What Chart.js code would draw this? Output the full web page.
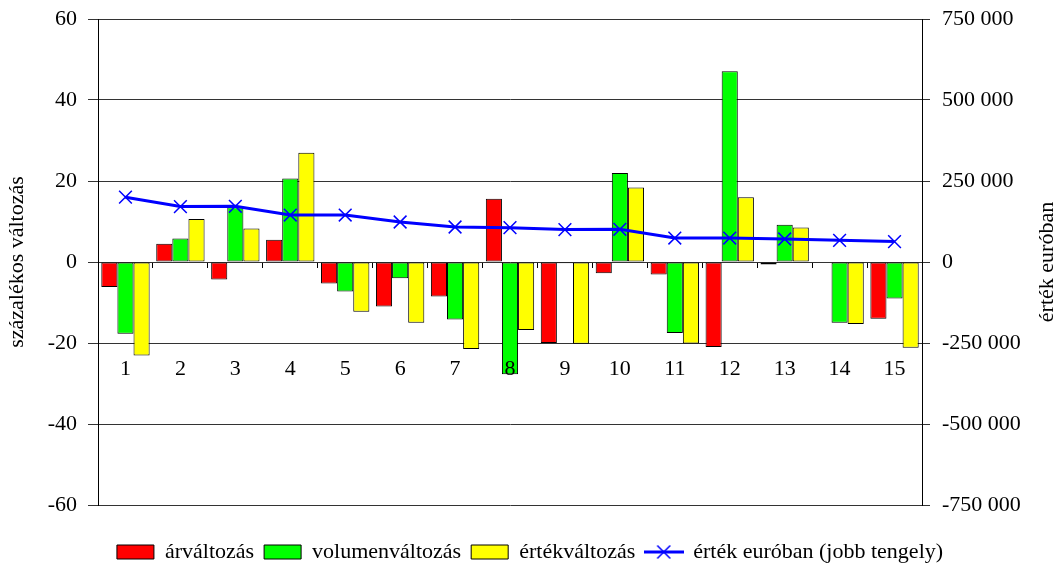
<!DOCTYPE html>
<html>
<head>
<meta charset="utf-8">
<script src="https://cdn.jsdelivr.net/npm/chart.js@4/dist/chart.umd.min.js"></script>
<style>
  html, body { margin: 0; padding: 0; background: #fff; }
  #wrap { width: 1060px; height: 564px; }
</style>
</head>
<body>
<div id="wrap"><canvas id="c" width="1060" height="564"></canvas></div>
<script>
const categories = ['1','2','3','4','5','6','7','8','9','10','11','12','13','14','15'];
const arvaltozas = [-6.2, 4.5, -4.3, 5.5, -5.3, -11.0, -8.5, 15.6, -20.0, -2.8, -3.1, -21.0, -0.6, 0, -14.0];
const volumenvaltozas = [-17.7, 5.8, 13.5, 20.6, -7.3, -4.0, -14.2, -27.7, -0.3, 22.0, -17.5, 47.1, 9.2, -15.0, -9.0];
const ertekvaltozas = [-23.1, 10.6, 8.3, 27.0, -12.3, -15.0, -21.5, -16.8, -20.2, 18.4, -20.1, 16.0, 8.5, -15.3, -21.2];
const ertekEuroban = [200000, 171000, 172000, 145000, 145000, 123500, 108000, 106000, 100000, 101000, 74000, 74000, 71000, 67000, 63000];
const seriesNames = ['árváltozás', 'volumenváltozás', 'értékváltozás', 'érték euróban (jobb tengely)'];
const axisTitles = ['százalékos változás', 'érték euróban'];
const leftTicks = { min: -60, max: 60, step: 20 };
const rightTicks = { min: -750000, max: 750000, step: 250000 };

const FONT = 'Liberation Serif';
const FS = 22;

function fmtSpace(v) {
  const s = String(Math.abs(Math.round(v))).replace(/\B(?=(\d{3})+(?!\d))/g, ' ');
  return (v < 0 ? '-' : '') + s;
}

// legend icon for the line series (line with X marker)
function lineIcon() {
  const cv = document.createElement('canvas');
  cv.width = 40; cv.height = 16;
  const g = cv.getContext('2d');
  g.strokeStyle = '#0000FF';
  g.lineWidth = 3;
  g.beginPath(); g.moveTo(0, 8); g.lineTo(40, 8); g.stroke();
  g.lineWidth = 1.5;
  g.beginPath(); g.moveTo(13.5, 1.5); g.lineTo(26.5, 14.5); g.moveTo(26.5, 1.5); g.lineTo(13.5, 14.5); g.stroke();
  return cv;
}
const icon = lineIcon();

// right axis title, rotated to read bottom-to-top like the reference
const rightTitlePlugin = {
  id: 'rightTitle',
  afterDraw(chart) {
    const ctx = chart.ctx;
    const area = chart.chartArea;
    ctx.save();
    ctx.font = FS + 'px "' + FONT + '"';
    ctx.fillStyle = '#000';
    ctx.textAlign = 'center';
    ctx.textBaseline = 'middle';
    ctx.translate(chart.width - 13, (area.top + area.bottom) / 2);
    ctx.rotate(-Math.PI / 2);
    ctx.fillText(axisTitles[1], 0, 0);
    ctx.restore();
  }
};

const barCommon = { borderColor: '#000000', borderWidth: 1, borderSkipped: false, xAxisID: 'x', yAxisID: 'y', categoryPercentage: 0.88, barPercentage: 1.0, order: 1 };

new Chart(document.getElementById('c'), {
  type: 'bar',
  data: {
    labels: categories,
    datasets: [
      Object.assign({ label: seriesNames[0], data: arvaltozas, backgroundColor: '#FF0000' }, barCommon),
      Object.assign({ label: seriesNames[1], data: volumenvaltozas, backgroundColor: '#00FF00' }, barCommon),
      Object.assign({ label: seriesNames[2], data: ertekvaltozas, backgroundColor: '#FFFF00' }, barCommon),
      {
        type: 'line', label: seriesNames[3], data: ertekEuroban, yAxisID: 'y1', xAxisID: 'x',
        borderColor: '#0000FF', backgroundColor: '#0000FF', borderWidth: 3, tension: 0,
        pointStyle: 'crossRot', pointRadius: 9, pointBorderWidth: 1.5, pointBorderColor: '#0000FF',
        pointHoverRadius: 9, order: 0
      }
    ]
  },
  plugins: [rightTitlePlugin],
  options: {
    responsive: false,
    devicePixelRatio: 1,
    animation: false,
    layout: { autoPadding: false, padding: { top: 19, left: 0, right: 0, bottom: 0 } },
    plugins: {
      tooltip: { enabled: false },
      legend: {
        position: 'bottom',
        maxHeight: 33,
        labels: {
          font: { family: FONT, size: FS },
          color: '#000',
          usePointStyle: true,
          pointStyleWidth: 37,
          boxWidth: 37,
          boxHeight: 14,
          padding: 10,
          sort: (a, b) => a.datasetIndex - b.datasetIndex,
          generateLabels: (chart) => {
            const items = Chart.defaults.plugins.legend.labels.generateLabels(chart);
            return items.map(it => {
              if (it.datasetIndex === 3) {
                it.pointStyle = icon;
              } else {
                it.pointStyle = 'rect';
                it.strokeStyle = '#000';
                it.lineWidth = 1;
              }
              return it;
            });
          }
        }
      }
    },
    scales: {
      x: {
        type: 'category',
        position: { y: 0 },
        afterFit: (s) => { s.height = 0; s.paddingLeft = 0; s.paddingRight = 0; },
        grid: { display: true, drawOnChartArea: false, drawTicks: true, tickLength: 6, offset: true, color: '#000', lineWidth: 1 },
        border: { display: false },
        ticks: { z: 1, font: { family: FONT, size: FS }, color: '#000', padding: 88, autoSkip: false, maxRotation: 0 }
      },
      xs: {
        type: 'category',
        position: 'bottom',
        afterFit: (s) => { s.height = 26; s.paddingLeft = 0; s.paddingRight = 0; },
        grid: { display: false },
        border: { display: false },
        ticks: { display: false }
      },
      y: {
        position: 'left',
        min: leftTicks.min, max: leftTicks.max,
        afterFit: (s) => { s.width = 98; s.paddingTop = 0; s.paddingBottom = 0; },
        ticks: { stepSize: leftTicks.step, font: { family: FONT, size: FS }, color: '#000', padding: 11 },
        grid: { color: '#333', lineWidth: 1, tickLength: 10 },
        border: { display: true, color: '#000', width: 1 },
        title: { display: true, text: axisTitles[0], font: { family: FONT, size: FS }, color: '#000' }
      },
      y1: {
        position: 'right',
        min: rightTicks.min, max: rightTicks.max,
        afterFit: (s) => { s.width = 138; s.paddingTop = 0; s.paddingBottom = 0; },
        ticks: { stepSize: rightTicks.step, font: { family: FONT, size: FS }, color: '#000', padding: 12, callback: (v) => fmtSpace(v) },
        grid: { drawOnChartArea: false, color: '#333', tickLength: 8 },
        border: { display: true, color: '#000', width: 1 },
        title: { display: false }
      }
    }
  }
});
</script>
</body>
</html>
